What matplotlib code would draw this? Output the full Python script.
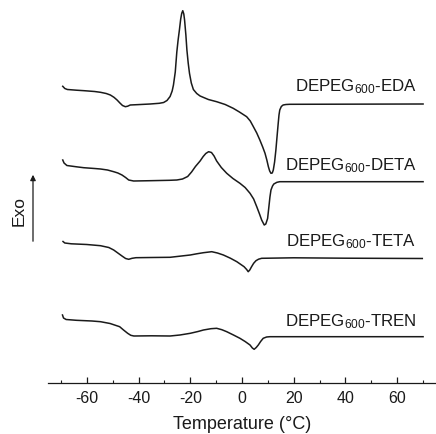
import matplotlib
matplotlib.use('Agg')
import matplotlib.pyplot as plt
from matplotlib.patches import FancyArrowPatch

plt.rcParams['font.family'] = ['Liberation Sans', 'DejaVu Sans']
plt.rcParams['mathtext.default'] = 'regular'
plt.rcParams['axes.unicode_minus'] = False

# --- DSC traces (temperature in °C, heat flow in stacked arbitrary units) ---
eda_T = [-69.3, -68.5, -67.5, -64, -61, -57, -54.7, -52.5, -50.9, -49.5, -48.3, -47.2,
         -46.2, -45.1, -44.2, -43.2, -40, -35.5, -32, -30.3, -29, -27.8, -27, -26.5,
         -25.8, -25.2, -24.7, -24.2, -23.7, -23.3, -22.9, -22.5, -22.2, -21.7, -21.3,
         -20.8, -20.3, -19.6, -18.8, -17.5, -16.2, -13, -9.8, -6.5, -3.4, -1, 1.8,
         3.2, 4.4, 5.7, 6.9, 8, 8.9, 9.6, 10.2, 10.7, 11.2, 11.7, 12.1, 12.6, 13.1,
         13.6, 14.0, 14.3, 14.6, 15.2, 15.9, 17, 18.5, 70]
eda_hf = [29.67, 29.45, 29.35, 29.28, 29.23, 29.15, 29.07, 28.95, 28.8, 28.57, 28.3, 28.0,
          27.75, 27.63, 27.68, 27.8, 27.84, 27.9, 27.97, 28.05, 28.25, 28.65, 29.2, 29.8,
          31.1, 33.1, 34.3, 35.3, 36.4, 36.97, 37.23, 36.9, 36.3, 34.8, 33.3,
          32.0, 30.97, 30.0, 29.35, 28.95, 28.7, 28.35, 28.13, 27.85, 27.47, 27.1, 26.63,
          26.2, 25.63, 25.0, 24.3, 23.6, 22.97, 22.3, 21.63, 21.2, 20.97, 21.0, 21.3, 22.1, 23.3,
          24.8, 25.97, 26.8, 27.3, 27.65, 27.8, 27.85, 27.87, 27.9]

deta_T = [-69.3, -68.8, -67.7, -64, -61.2, -57, -54.7, -52, -49.6, -48, -46.4, -45,
          -43.8, -41.9, -35.5, -28, -25.2, -23, -21, -19.5, -18, -16.2, -15, -14,
          -12.9, -11.8, -10.8, -9.8, -8, -5.9, -3.5, -0.8, 1.2, 3.1, 4.5, 5.7, 6.7,
          7.6, 8.6, 9.2, 9.9, 10.4, 10.8, 11.2, 11.8, 12.3, 13.5, 14.6, 70]
deta_hf = [22.3, 22.0, 21.75, 21.62, 21.53, 21.45, 21.4, 21.3, 21.13, 21.0, 20.8, 20.55,
           20.3, 20.2, 20.23, 20.27, 20.3, 20.4, 20.65, 21.1, 21.65, 22.2, 22.65, 22.95,
           23.13, 23.05, 22.7, 22.2, 21.55, 20.97, 20.45, 19.97, 19.55, 18.97, 18.4, 17.63, 16.95,
           16.3, 15.8, 15.9, 16.45, 17.63, 18.6, 19.3, 19.7, 19.9, 20.07, 20.13, 20.13]

teta_T = [-69.2, -68.5, -66, -60, -54.7, -51.5, -49.6, -48, -46.4, -45, -43.8, -42.5,
          -41, -35, -27.8, -20, -17.5, -14.9, -11.7, -9.5, -7.2, -4.5, -2.0, 0.8, 1.8,
          2.4, 3.0, 3.7, 4.5, 5.4, 6.4, 7.6, 20, 40, 69.7]
teta_hf = [14.15, 14.0, 13.92, 13.85, 13.73, 13.55, 13.3, 13.0, 12.7, 12.45, 12.37, 12.47,
           12.53, 12.55, 12.57, 12.8, 12.92, 13.03, 13.13, 13.0, 12.8, 12.48, 12.13, 11.63, 11.35,
           11.13, 11.3, 11.63, 11.97, 12.23, 12.38, 12.47, 12.52, 12.48, 12.45]

tren_T = [-69.4, -69, -68, -64, -58, -54.7, -51, -47.3, -45.8, -44.2, -43, -41.8,
          -35, -27.8, -24, -20, -17, -14.9, -12, -9.8, -7.8, -5.9, -3.3, -0.8, 1.2,
          3.1, 4.0, 4.7, 5.5, 6.3, 7.2, 8.2, 9.5, 10.8, 70]
tren_hf = [6.8, 6.5, 6.35, 6.27, 6.2, 6.13, 5.95, 5.63, 5.3, 4.97, 4.77, 4.7,
           4.72, 4.7, 4.8, 4.97, 5.15, 5.3, 5.43, 5.47, 5.33, 5.13, 4.8, 4.47, 4.15,
           3.8, 3.5, 3.37, 3.55, 3.8, 4.15, 4.47, 4.6, 4.63, 4.63]

curve_labels = ['DEPEG$_{600}$-EDA', 'DEPEG$_{600}$-DETA',
                'DEPEG$_{600}$-TETA', 'DEPEG$_{600}$-TREN']
label_hf = [29.2, 21.3, 13.65, 5.7]

x_major = [-60, -40, -20, 0, 20, 40, 60]
x_minor = [-70, -50, -30, -10, 10, 30, 50, 70]

fig = plt.figure(figsize=(4.36, 4.34), dpi=100, facecolor='white')
ax = fig.add_axes([48 / 436, 51 / 434, 388 / 436, 383 / 434])

ink = '#1a1a1a'
for T, hf in [(eda_T, eda_hf), (deta_T, deta_hf), (teta_T, teta_hf), (tren_T, tren_hf)]:
    ax.plot(T, hf, color=ink, lw=1.1, solid_joinstyle='round')

for txt, y in zip(curve_labels, label_hf):
    ax.text(67.5, y, txt, ha='right', va='baseline', fontsize=12.2, color=ink)

ax.set_xlim(-75, 75)
ax.set_ylim(0, 38.3)
for side in ['left', 'right', 'top']:
    ax.spines[side].set_visible(False)
ax.spines['bottom'].set_linewidth(0.9)
ax.spines['bottom'].set_color(ink)
ax.set_yticks([])
ax.set_xticks(x_major)
ax.set_xticks(x_minor, minor=True)
ax.tick_params(axis='x', which='major', direction='in', length=4, width=0.9,
               labelsize=11.5, pad=6, colors=ink)
ax.tick_params(axis='x', which='minor', direction='in', length=2, width=0.8, colors=ink)
ax.set_xlabel('Temperature (°C)', fontsize=13, color=ink, labelpad=7)

# Exo marker with arrow pointing up
fig.text(19 / 436, 1 - 211 / 434, 'Exo', rotation=90, ha='center', va='center',
         fontsize=12.5, color=ink)
fig.add_artist(FancyArrowPatch(
    (33 / 436, 1 - 244 / 434), (33 / 436, 1 - 172 / 434),
    transform=fig.transFigure, arrowstyle='-|>', mutation_scale=8,
    color=ink, lw=0.9))

fig.savefig('out.png', dpi=100)
